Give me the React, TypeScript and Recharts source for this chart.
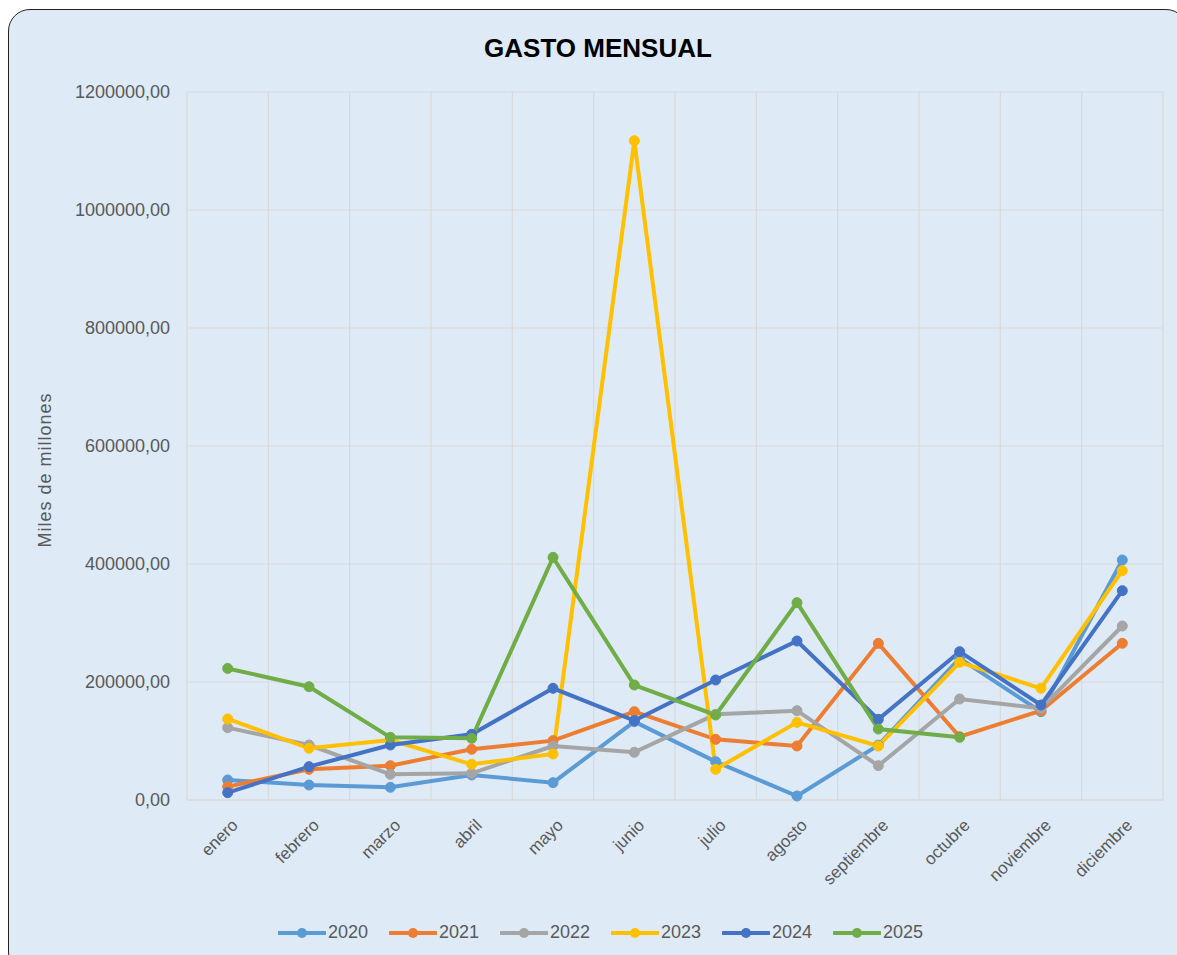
import React from "react";
import { LineChart, Line, XAxis, YAxis, CartesianGrid } from "recharts";

const months = ["enero", "febrero", "marzo", "abril", "mayo", "junio", "julio", "agosto", "septiembre", "octubre", "noviembre", "diciembre"];
const s2020 = [33900, 25400, 21500, 42400, 29400, 132700, 65000, 6800, 93000, 240100, 149700, 406800];
const s2021 = [22600, 52000, 58200, 85900, 100600, 149700, 102800, 91500, 265500, 107300, 151400, 265600];
const s2022 = [122600, 93200, 43500, 45200, 91500, 80800, 145200, 151400, 58200, 171200, 155400, 294900];
const s2023 = [137300, 87600, 101700, 60500, 78000, 1117500, 52000, 131600, 91500, 233400, 189300, 388700];
const s2024 = [12400, 56500, 93200, 111300, 189300, 134500, 203400, 269500, 136700, 251400, 161000, 354800];
const s2025: (number | null)[] = [223000, 192000, 106200, 104500, 411300, 194900, 144100, 334500, 120300, 106200, null, null];
const yTicks = [0, 200000, 400000, 600000, 800000, 1000000, 1200000];

const seriesNames = ["2020", "2021", "2022", "2023", "2024", "2025"];
const seriesColors = ["#5B9BD5", "#ED7D31", "#A5A5A5", "#FFC000", "#4472C4", "#70AD47"];
const seriesValues = [s2020, s2021, s2022, s2023, s2024, s2025];

const data = months.map((m, i) => {
  const row: any = { month: m };
  seriesNames.forEach((n, k) => {
    row[n] = seriesValues[k][i];
  });
  return row;
});

const FONT = "'Liberation Sans', Arial, sans-serif";
const TXT = "#595959";

const fmt = (v: number) => v.toFixed(2).replace(".", ",");

const XTick = (props: any) => {
  const { x, y, payload } = props;
  return (
    <g transform={`translate(${x + 7},${y + 14})`}>
      <text x={0} y={0} dy="0.35em" textAnchor="end" transform="rotate(-45)" fill={TXT} fontSize={17} fontFamily={FONT}>
        {payload.value}
      </text>
    </g>
  );
};

const LegendContent = () => (
  <div style={{ display: "flex", fontFamily: FONT, fontSize: 18, color: TXT }}>
    {seriesNames.map((n, k) => (
      <div key={n} style={{ display: "flex", alignItems: "center", width: 111 }}>
        <svg width={48} height={14} style={{ display: "block" }}>
          <line x1={1} y1={7} x2={47} y2={7} stroke={seriesColors[k]} strokeWidth={4} strokeLinecap="round" />
          <circle cx={24} cy={7} r={5} fill={seriesColors[k]} />
        </svg>
        <span style={{ marginLeft: 2 }}>{n}</span>
      </div>
    ))}
  </div>
);

export default function App() {
  return (
    <div style={{ position: "fixed", left: 0, top: 0, width: 1177, height: 955, overflow: "hidden", background: "#fff" }}>
      <div
        style={{
          position: "absolute",
          left: 8,
          top: 9,
          width: 1180,
          height: 965,
          background: "#DEEAF6",
          border: "1.5px solid #222",
          borderRadius: 22,
          boxSizing: "border-box",
        }}
      />
      <div style={{ position: "absolute", left: 0, top: 0 }}>
        <LineChart width={1177} height={955} data={data} margin={{ top: 92, right: 14, bottom: 0, left: 0 }}>
          <text x={598} y={57} textAnchor="middle" fontFamily={FONT} fontWeight="bold" fontSize={26} fill="#000">
            GASTO MENSUAL
          </text>
          <text
            x={0}
            y={0}
            transform="translate(51,470) rotate(-90)"
            textAnchor="middle"
            fontFamily={FONT}
            fontSize={18}
            letterSpacing={1}
            fill={TXT}
          >
            Miles de millones
          </text>
          <CartesianGrid
            stroke="#D9D9D9"
            strokeWidth={1.2}
            verticalCoordinatesGenerator={({ offset }: any) =>
              Array.from({ length: 13 }, (_, i) => offset.left + (i * offset.width) / 12)
            }
          />
          <XAxis
            dataKey="month"
            tick={<XTick />}
            tickLine={false}
            axisLine={{ stroke: "#D9D9D9", strokeWidth: 1.2 }}
            interval={0}
            height={155}
            padding={{ left: 40.7, right: 40.7 }}
          />
          <YAxis
            domain={[0, 1200000]}
            ticks={yTicks}
            tickFormatter={fmt}
            tickLine={false}
            axisLine={false}
            tickSize={0}
            tickMargin={17}
            width={187}
            tick={{ fill: TXT, fontSize: 18, fontFamily: FONT }}
          />
          {seriesNames.map((n, k) => (
            <Line
              key={n}
              type="linear"
              dataKey={n}
              stroke={seriesColors[k]}
              strokeWidth={4}
              dot={{ r: 5, fill: seriesColors[k], stroke: seriesColors[k], strokeWidth: 1 }}
              activeDot={false}
              isAnimationActive={false}
              connectNulls={false}
            />
          ))}
        </LineChart>
      </div>
      <div style={{ position: "absolute", left: 278, top: 922 }}>
        <LegendContent />
      </div>
    </div>
  );
}
